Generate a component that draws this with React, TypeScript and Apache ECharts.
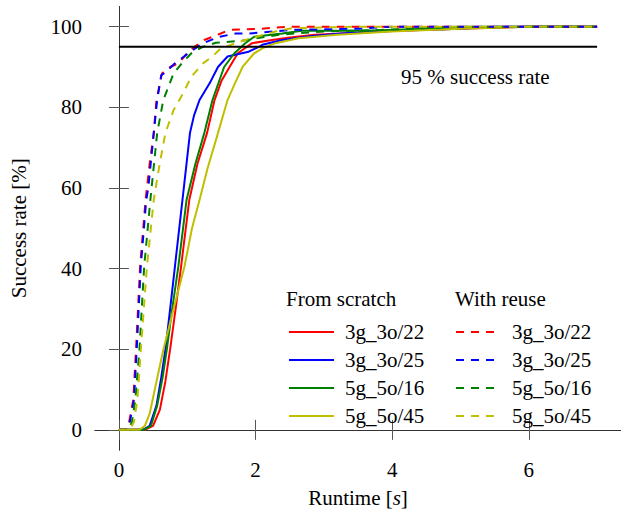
import React, { useEffect, useRef } from "react";
import * as echarts from "echarts";

const X_TICKS = [0, 2, 4, 6];
const Y_TICKS = [0, 20, 40, 60, 80, 100];
const THRESHOLD = [[0, 95], [7, 95]];

const scratch_3g3o22 = [[0,0],[0.38,0],[0.5,1],[0.6,5],[0.68,12],[0.75,20],[0.83,30],[0.91,40.5],[1.03,57],[1.15,66],[1.29,73.6],[1.4,81.8],[1.5,86.5],[1.62,90],[1.74,93.4],[1.95,95.9],[2.24,96.7],[2.5,97.3],[2.87,98],[3.5,98.5],[4.1,99],[5,99.5],[6,100],[7,100]];
const scratch_3g3o25 = [[0,0],[0.35,0],[0.45,1],[0.55,6],[0.62,13],[0.68,19.8],[0.75,30],[0.82,40.5],[0.93,57],[1.04,73.6],[1.1,78],[1.18,81.8],[1.33,86],[1.45,90],[1.59,92.6],[1.75,93.2],[1.9,93.8],[2.05,95],[2.1,95.5],[2.39,96.7],[2.8,97.6],[3.25,98.3],[4,99],[5,99.5],[5.5,100],[7,100]];
const scratch_5g5o16 = [[0,0],[0.36,0],[0.47,1],[0.56,6],[0.64,13],[0.7,19.8],[0.78,30],[0.87,40.5],[0.99,57],[1.12,66],[1.25,73.6],[1.37,81.8],[1.54,90],[1.69,93.4],[1.85,95.9],[1.98,97.5],[2.39,98.3],[2.68,99],[3.6,99],[4.5,99.5],[5.5,99.8],[6,100],[7,100]];
const scratch_5g5o45 = [[0,0],[0.3,0],[0.38,1],[0.45,4],[0.55,12],[0.65,19.8],[0.8,30],[0.96,40.5],[1.07,50],[1.18,57],[1.3,65],[1.45,73.6],[1.59,81.8],[1.7,86],[1.81,90],[1.98,93.4],[2.1,94.6],[2.29,95.9],[2.63,97.1],[3.2,98],[3.98,98.8],[5,99.5],[6,100],[7,100]];

const reuse_3g3o22 = [[0,0],[0.1,0],[0.15,2],[0.21,7.4],[0.25,19.8],[0.31,40.5],[0.39,57],[0.45,66],[0.51,73.6],[0.55,81.8],[0.63,88.4],[0.75,90],[0.87,90.9],[1.04,94.2],[1.25,96.7],[1.49,98.3],[1.62,99.2],[2,99.4],[2.5,100],[7,100]];
const reuse_3g3o25 = [[0,0],[0.1,0],[0.16,2],[0.22,7.4],[0.26,19.8],[0.32,40.5],[0.4,57],[0.43,60],[0.51,73.6],[0.56,81.8],[0.62,88],[0.68,88.6],[0.72,89.3],[0.82,90.9],[1.08,94.2],[1.23,95.9],[1.47,97.5],[1.71,98.3],[1.9,98.3],[2.53,99.2],[3.5,99.5],[4,100],[7,100]];
const reuse_5g5o16 = [[0,0],[0.14,0],[0.19,2],[0.24,7.4],[0.3,19.8],[0.37,40.5],[0.46,57],[0.56,73.6],[0.65,81.8],[0.8,88.4],[0.92,90.9],[1.06,93.4],[1.23,95],[1.42,96],[1.8,96.5],[2.34,98],[3,98.8],[3.83,99.2],[5,100],[7,100]];
const reuse_5g5o45 = [[0,0],[0.16,0],[0.22,2],[0.27,7.4],[0.32,19.8],[0.41,40.5],[0.51,57],[0.59,65.3],[0.68,73.6],[0.8,79.3],[0.94,83.5],[1.06,87.6],[1.23,90.9],[1.37,92.6],[1.49,94.6],[1.71,95.9],[1.85,96.7],[2.29,98.8],[2.53,99.6],[3.5,100],[7,100]];

const NAMES = ["3g_3o/22", "3g_3o/25", "5g_5o/16", "5g_5o/45"];
const COLORS = ["#ff0000", "#0000ff", "#008000", "#bfbf00"];
const SCRATCH = [scratch_3g3o22, scratch_3g3o25, scratch_5g5o16, scratch_5g5o45];
const REUSE = [reuse_3g3o22, reuse_3g3o25, reuse_5g5o16, reuse_5g5o45];

const FONT = "Liberation Serif";
const FS = 21;

function buildOption() {
  const mkSeries = (prefix: string, datas: number[][][], dashed: boolean) =>
    datas.map((d, i) => ({
      name: prefix + NAMES[i],
      type: "line",
      data: d,
      symbol: "none",
      showSymbol: false,
      silent: true,
      lineStyle: { color: COLORS[i], width: 2, type: dashed ? [8, 7] : "solid" },
      itemStyle: { color: COLORS[i] },
      z: dashed ? 3 : 2,
    }));
  const axisCommon = {
    axisLine: { show: true, lineStyle: { color: "#333", width: 1 } },
    splitLine: { show: false },
  };
  const legendCommon = {
    orient: "vertical",
    padding: 0,
    itemWidth: 45,
    itemHeight: 14,
    itemGap: 6,
    selectedMode: false,
    formatter: (n: string) => n.split(":")[1],
    itemStyle: { opacity: 0, borderWidth: 0 },
    textStyle: { fontFamily: FONT, fontSize: FS, color: "#000", lineHeight: 22, padding: [0, 0, 0, 6] },
  };
  return {
    animation: false,
    backgroundColor: "#fff",
    textStyle: { fontFamily: FONT, fontSize: FS, color: "#000" },
    grid: { left: 91, right: -2, top: 6.5, bottom: 65 },
    xAxis: [
      {
        type: "value", min: -0.35, max: 7.35, position: "bottom",
        ...axisCommon,
        axisTick: { show: true, inside: true, length: 10, customValues: X_TICKS, lineStyle: { color: "#555" } },
        axisLabel: { customValues: X_TICKS, fontFamily: FONT, fontSize: FS, color: "#000", margin: 9 },
        name: "Runtime [{i|s}]",
        nameLocation: "middle",
        nameGap: 37,
        nameTextStyle: { fontFamily: FONT, fontSize: FS, color: "#000", rich: { i: { fontFamily: FONT, fontSize: FS, fontStyle: "italic", color: "#000" } } },
      },
      {
        type: "value", min: -0.35, max: 7.35, position: "top",
        ...axisCommon,
        axisTick: { show: true, inside: true, length: 10, customValues: X_TICKS, lineStyle: { color: "#555" } },
        axisLabel: { show: false },
      },
    ],
    yAxis: [
      {
        type: "value", min: -5, max: 105, position: "left",
        ...axisCommon,
        axisTick: { show: true, inside: true, length: 10, customValues: Y_TICKS, lineStyle: { color: "#555" } },
        axisLabel: { customValues: Y_TICKS, fontFamily: FONT, fontSize: FS, color: "#000", margin: 13 },
        name: "Success rate [%]",
        nameLocation: "middle",
        nameGap: 66,
        nameTextStyle: { fontFamily: FONT, fontSize: FS, color: "#000" },
      },
      {
        type: "value", min: -5, max: 105, position: "right",
        ...axisCommon,
        axisTick: { show: true, inside: true, length: 10, customValues: Y_TICKS, lineStyle: { color: "#555" } },
        axisLabel: { show: false },
      },
    ],
    legend: [
      { ...legendCommon, left: 288, top: 321, data: NAMES.map((n) => "scratch:" + n) },
      { ...legendCommon, left: 455, top: 321, data: NAMES.map((n) => "reuse:" + n) },
    ],
    graphic: [
      { type: "text", left: 286, top: 288, style: { text: "From scratch", fontFamily: FONT, fontSize: FS, fill: "#000" } },
      { type: "text", left: 455, top: 288, style: { text: "With reuse", fontFamily: FONT, fontSize: FS, fill: "#000" } },
      { type: "text", left: 401, top: 66, style: { text: "95 % success rate", fontFamily: FONT, fontSize: FS, fill: "#000" } },
    ],
    series: [
      ...mkSeries("scratch:", SCRATCH, false),
      ...mkSeries("reuse:", REUSE, true),
      {
        name: "threshold",
        type: "line",
        data: THRESHOLD,
        symbol: "none",
        silent: true,
        lineStyle: { color: "#000", width: 2 },
        z: 4,
      },
    ],
  };
}

export default function App() {
  const ref = useRef<HTMLDivElement>(null);
  useEffect(() => {
    document.body.style.margin = "0";
    if (!ref.current) return;
    const chart = echarts.init(ref.current, null, { renderer: "svg" });
    chart.setOption(buildOption());
    return () => chart.dispose();
  }, []);
  return (
    <div style={{ position: "relative", width: 621, height: 515, background: "#fff" }}>
      <div ref={ref} style={{ position: "absolute", left: 0, top: 0, width: 621, height: 515 }} />
    </div>
  );
}
